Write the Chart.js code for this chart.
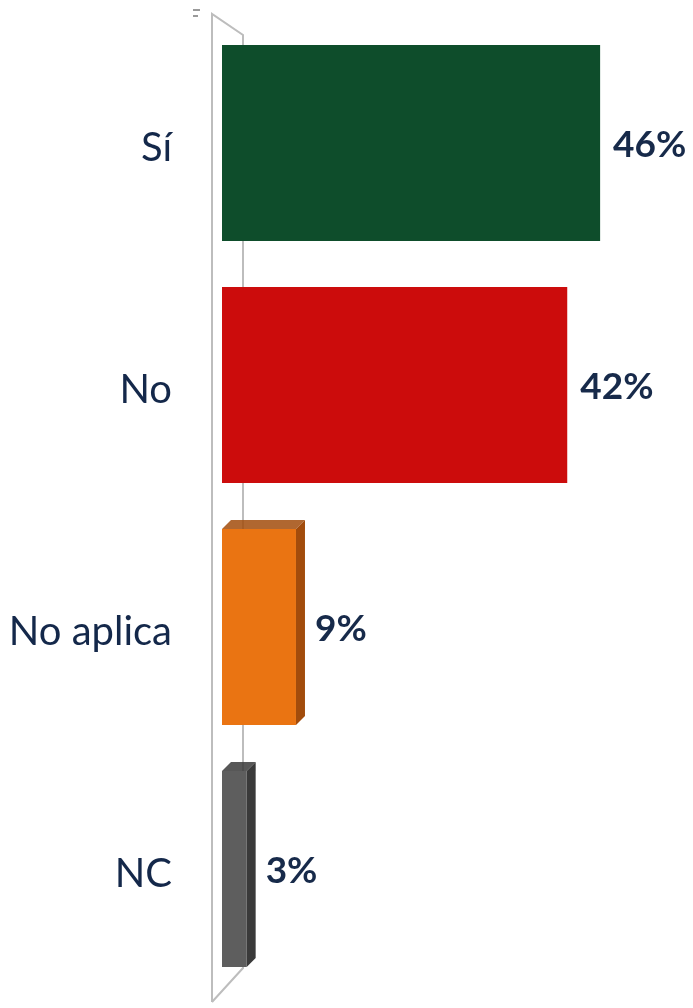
<!DOCTYPE html>
<html>
<head>
<meta charset="utf-8">
<script src="https://cdn.jsdelivr.net/npm/chart.js@4"></script>
<style>
  html, body { margin: 0; padding: 0; background: #fff; }
  #wrap { width: 693px; height: 1008px; position: relative; }
</style>
</head>
<body>
<div id="wrap"><canvas id="grafico"></canvas></div>
<script>
const categorias = ["Sí", "No", "No aplica", "NC"];
const valores = [46, 42, 9, 3];
const rotulos = ["46%", "42%", "9%", "3%"];

const CORES = ["#0e4d2b", "#cc0c0c", "#ea7412", "#5e5e5e"];
const LATERAIS = [null, null, "#a24c0c", "#3a3a3a"];

// paredes "3D" e o eixo cinza
const paredes = {
  id: "paredes",
  beforeDatasetsDraw(chart) {
    const { ctx, chartArea: a } = chart;
    const fx = a.left - 10, bx = a.left + 21;
    ctx.save();
    ctx.strokeStyle = "#bdbdbd";
    ctx.lineWidth = 2;
    ctx.beginPath();
    ctx.moveTo(fx, a.bottom + 12);
    ctx.lineTo(fx, a.top - 8);
    ctx.lineTo(bx, a.top + 13);
    ctx.lineTo(bx, a.bottom - 22);
    ctx.lineTo(fx, a.bottom + 12);
    ctx.stroke();
    // tracinhos soltos no topo
    ctx.fillStyle = "#9a9a9a";
    ctx.fillRect(fx - 19, a.top - 13, 7, 2);
    ctx.fillRect(fx - 19, a.top - 7, 5, 2);
    ctx.restore();
  },
};

// faces laterais + rótulos de valor
const extras = {
  id: "extras",
  afterDatasetsDraw(chart) {
    const { ctx } = chart;
    const meta = chart.getDatasetMeta(0);
    const d = 9;
    ctx.save();
    meta.data.forEach((bar, i) => {
      const h = bar.height;
      const top = bar.y - h / 2, bot = bar.y + h / 2;
      const x0 = bar.base, x1 = bar.x;
      let fim = x1 + 13;
      if (LATERAIS[i]) {
        ctx.fillStyle = LATERAIS[i];
        ctx.beginPath();
        ctx.moveTo(x1, top); ctx.lineTo(x1 + d, top - d);
        ctx.lineTo(x1 + d, bot - d); ctx.lineTo(x1, bot);
        ctx.closePath(); ctx.fill();
        ctx.globalAlpha = 0.85;
        ctx.beginPath();
        ctx.moveTo(x0, top); ctx.lineTo(x0 + d, top - d);
        ctx.lineTo(x1 + d, top - d); ctx.lineTo(x1, top);
        ctx.closePath(); ctx.fill();
        ctx.globalAlpha = 1;
        fim = x1 + d + 10;
      }
      ctx.fillStyle = "#172a4a";
      ctx.font = "bold 37px Lato";
      ctx.textAlign = "left";
      ctx.textBaseline = "middle";
      ctx.fillText(rotulos[i], fim, bar.y + 2);
    });
    ctx.restore();
  },
};

new Chart(document.getElementById("grafico"), {
  type: "bar",
  data: {
    labels: categorias,
    datasets: [{
      data: valores,
      backgroundColor: CORES,
      borderWidth: 0,
      barPercentage: 0.81,
      categoryPercentage: 1,
    }],
  },
  options: {
    indexAxis: "y",
    responsive: true,
    maintainAspectRatio: false,
    animation: false,
    layout: { padding: { top: 22, bottom: 18, left: 0, right: 60 } },
    plugins: { legend: { display: false }, tooltip: { enabled: false } },
    scales: {
      x: { display: false, min: 0, max: 50 },
      y: {
        grid: { display: false, drawTicks: false },
        border: { display: false },
        ticks: { padding: 50, labelOffset: 5, color: "#14284a", font: { family: "Lato", size: 40 } },
        afterFit(s) { s.width = 222; s.paddingTop = 0; s.paddingBottom = 0; },
      },
    },
  },
  plugins: [paredes, extras],
});
</script>
</body>
</html>
